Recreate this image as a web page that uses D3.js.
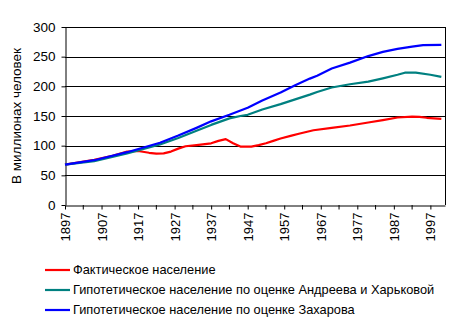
<!DOCTYPE html>
<html><head><meta charset="utf-8">
<script src="https://cdn.jsdelivr.net/npm/d3@7"></script>
<style>
html,body{margin:0;padding:0;background:#fff;}
svg text{font-family:"Liberation Sans",Arial,sans-serif;fill:#000;}
</style></head>
<body>
<svg id="c" width="450" height="327"></svg>
<script>
const seriesNames = [
  "Фактическое население",
  "Гипотетическое население по оценке Андреева и Харьковой",
  "Гипотетическое население по оценке Захарова"
];
const seriesColors = ["#ff0000", "#008080", "#0000ff"];

const actualYears = [1897,1905,1910,1914,1917,1920,1922,1924,1926,1928,1930,1933,1937,1939,1941,1943,1945,1948,1950,1952,1954,1956,1959,1961,1965,1970,1975,1980,1984,1988,1992,1994,1996,1998,2000];
const actualValues = [68,76,83,90,91,88,86.5,87,90,95,99,101,104,108,111,104,98.5,98.5,101,104,108,112,117,120,126,130,134,139,143,147.5,149,148.5,147,146,145];

const akYears = [1897,1905,1914,1923,1928,1933,1937,1942,1945,1947,1951,1956,1960,1964,1966,1970,1975,1980,1984,1988,1990,1993,1997,2000];
const akValues = [68,74,87,102,113,125,135,146,150,152,161,170,178,186,190.5,198,203.5,208,213.5,219.5,223,223,219.5,216];

const zYears = [1897,1905,1914,1923,1928,1933,1937,1942,1947,1951,1956,1960,1964,1966,1970,1975,1980,1984,1988,1992,1995,2000];
const zValues = [68,75.5,89,105,117,130,141,152,164,176,189.5,202,213,218,230,240,251,258,263,267,269.5,270];

const yTicks = [0,50,100,150,200,250,300];
const xTickLabels = [1897,1907,1917,1927,1937,1947,1957,1967,1977,1987,1997];
const xMinorTicks = [1902,1912,1922,1932,1942,1952,1962,1972,1982,1992];
const yTitle = "В миллионах человек";

const svg = d3.select("#c");
const L = 65, R = 445, T = 27, B = 205;
const x = d3.scaleLinear().domain([1897, 2001]).range([L, R]);
const y = d3.scaleLinear().domain([0, 300]).range([B, T]);

// gridlines
svg.append("g").selectAll("line").data(yTicks.filter(v => v > 0)).join("line")
  .attr("x1", L).attr("x2", R)
  .attr("y1", d => Math.round(y(d)) + 0.5).attr("y2", d => Math.round(y(d)) + 0.5)
  .attr("stroke", "#000").attr("stroke-width", 1);
// right border
svg.append("line").attr("x1", R + 0.5).attr("x2", R + 0.5).attr("y1", T).attr("y2", B)
  .attr("stroke", "#000");

// y axis
const yAxis = svg.append("g").attr("transform", `translate(${L + 0.5},0)`)
  .call(d3.axisLeft(y).tickValues(yTicks).tickSize(4).tickPadding(6).tickSizeOuter(0));
yAxis.selectAll("text").style("font-size", "13.5px");
yAxis.selectAll("path,line").attr("stroke", "#000");

// x axis
const xAxis = svg.append("g").attr("transform", `translate(0,${B + 0.5})`)
  .call(d3.axisBottom(x).tickValues(xTickLabels).tickFormat(d3.format("d")).tickSize(4).tickSizeOuter(0));
xAxis.selectAll("path,line").attr("stroke", "#000");
xAxis.selectAll("text").style("font-size", "13px")
  .attr("transform", "rotate(-90)")
  .attr("text-anchor", "end")
  .attr("x", -7).attr("y", 0).attr("dy", "0.35em");
svg.append("g").selectAll("line").data(xMinorTicks).join("line")
  .attr("x1", d => x(d)).attr("x2", d => x(d))
  .attr("y1", B).attr("y2", B + 4.5).attr("stroke", "#000");

// y title
svg.append("text").attr("transform", `translate(21,116) rotate(-90)`)
  .attr("text-anchor", "middle").style("font-size", "13.5px").text(yTitle);

// lines
const data = [
  {years: actualYears, values: actualValues},
  {years: akYears, values: akValues},
  {years: zYears, values: zValues}
];
const line = d3.line().x(d => x(d[0])).y(d => y(d[1]));
data.forEach((s, i) => {
  const pts = s.years.map((yr, j) => [yr, s.values[j]]);
  svg.append("path").datum(pts).attr("d", line)
    .attr("fill", "none").attr("stroke", seriesColors[i]).attr("stroke-width", 2.2)
    .attr("stroke-linejoin", "round");
});

// legend
const lg = svg.append("g");
seriesNames.forEach((name, i) => {
  const ly = 270 + i * 20;
  lg.append("line").attr("x1", 45).attr("x2", 70).attr("y1", ly).attr("y2", ly)
    .attr("stroke", seriesColors[i]).attr("stroke-width", 2.2);
  lg.append("text").attr("x", 73).attr("y", ly).attr("dy", "0.35em")
    .style("font-size", "12.8px").text(name);
});
</script>
</body></html>
